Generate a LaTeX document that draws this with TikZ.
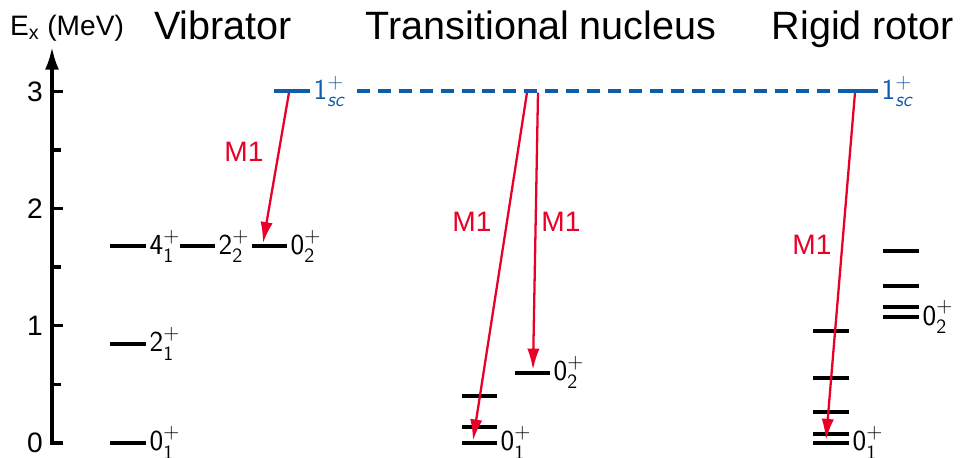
\documentclass[tikz,border=0pt]{standalone}
\usepackage{amsmath}
\usepackage{fontspec}
\setmainfont{Liberation Sans}
\usetikzlibrary{arrows.meta}
\definecolor{scblue}{RGB}{16,92,170}
\definecolor{mred}{RGB}{232,0,40}
\newcommand{\lvl}[2]{\textsf{#1}$^{+}_{\textsf{#2}}$}
\tikzset{
  level/.style={line width=2.2pt},
  sclevel/.style={line width=2.2pt,scblue},
  trans/.style={mred,line width=1.3pt,-{Latex[length=12pt,width=7pt]}},
  lab/.style={anchor=west,inner sep=1pt,font=\fontsize{16.5}{19}\selectfont},
  mlab/.style={mred,font=\fontsize{16}{18}\selectfont},
  title/.style={anchor=base,font=\fontsize{22.5}{26}\selectfont}
}
\begin{document}
\begin{tikzpicture}[x=0.02cm,y=2.344cm]
\useasboundingbox (0,-0.128) rectangle (961,3.78);
% energy axis
\draw[line width=2pt,-{Latex[length=13pt,width=8pt]}] (63,0) -- (52,0) -- (52,3.38);
\foreach \e in {1,2,3} {
  \draw[line width=2pt] (52,\e) -- (63,\e);
}
\foreach \e in {0.5,1.5,2.5} {
  \draw[line width=2pt] (52,\e) -- (61,\e);
}
\foreach \e in {0,1,2,3} {
  \node[font=\fontsize{16}{18}\selectfont] (tick\e) at (35,\e) {\e};
}
\node[anchor=base,font=\fontsize{16}{18}\selectfont] (axlab) at (67,3.48) {E$_{\text{x}}$ (MeV)};
% titles
\node[title] (tvib) at (223,3.439) {Vibrator};
\node[title] (ttrans) at (541,3.439) {Transitional nucleus};
\node[title] (trot) at (863,3.439) {Rigid rotor};
% vibrator levels
\draw[level] (110,0) -- (146,0) node[lab] (v01) {\lvl{0}{1}};
\draw[level] (110,0.845) -- (146,0.845) node[lab] (v21) {\lvl{2}{1}};
\draw[level] (110,1.68) -- (146,1.68) node[lab] (v41) {\lvl{4}{1}};
\draw[level] (180,1.68) -- (215,1.68) node[lab] (v22) {\lvl{2}{2}};
\draw[level] (252,1.68) -- (287,1.68) node[lab] (v02) {\lvl{0}{2}};
% transitional levels
\draw[level] (462,0) -- (497,0) node[lab] (n01) {\lvl{0}{1}};
\foreach \e in {0.137,0.40} {
  \draw[level] (462,\e) -- (497,\e);
}
\draw[level] (515,0.60) -- (550,0.60) node[lab] (n02) {\lvl{0}{2}};
% rotor levels
\draw[level] (813,0) -- (849,0) node[lab] (r01) {\lvl{0}{1}};
\foreach \e in {0.077,0.265,0.555,0.955} {
  \draw[level] (813,\e) -- (849,\e);
}
\draw[level] (883,1.075) -- (919,1.075) node[lab] (r02) {\lvl{0}{2}};
\foreach \e in {1.16,1.34,1.64} {
  \draw[level] (883,\e) -- (919,\e);
}
% M1 transitions
\coordinate (sv) at (289,2.99);
\coordinate (sn1) at (527,2.99);
\coordinate (sn2) at (538,2.99);
\coordinate (sr) at (855,2.99);
\coordinate (ev) at (263,1.705);
\coordinate (en1) at (473,0.02);
\coordinate (en2) at (533,0.625);
\coordinate (er) at (826,0.025);
\draw[trans] (sv) -- (ev);
\draw[trans] (sn1) -- (en1);
\draw[trans] (sn2) -- (en2);
\draw[trans] (sr) -- (er);
\node[mlab] (mv) at (244,2.483) {M1};
\node[mlab] (mn1) at (472,1.886) {M1};
\node[mlab] (mn2) at (561,1.886) {M1};
\node[mlab] (mr) at (812,1.689) {M1};
% scissors mode
\draw[sclevel] (274,3) -- (310,3) node[lab,scblue] (sc1) {\lvl{1}{\itshape sc}};
\draw[sclevel,dash pattern=on 7.4pt off 4.5pt] (357,3) -- (843,3);
\draw[sclevel] (843,3) -- (878,3) node[lab,scblue] (sc2) {\lvl{1}{\itshape sc}};
\end{tikzpicture}
\end{document}
